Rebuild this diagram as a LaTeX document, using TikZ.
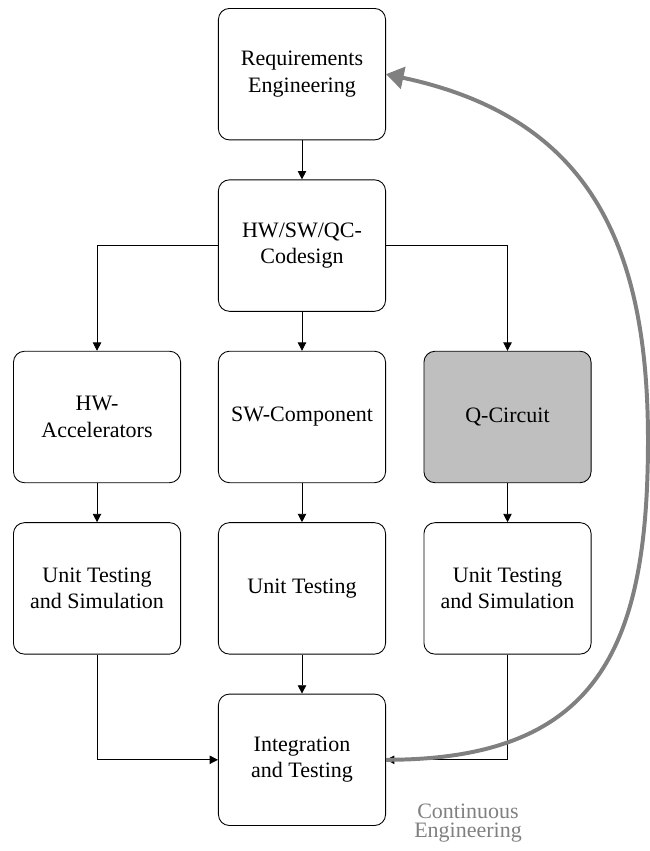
\documentclass[tikz,border=0pt]{standalone}
\usepackage{fontspec}
\setmainfont{Liberation Serif}
\usetikzlibrary{arrows.meta, positioning}

\begin{document}
\begin{tikzpicture}[
    block/.style={draw, rounded corners=5pt, align=center, minimum width=2.67cm, minimum height=2.1cm},
    flow/.style={-{Triangle[length=3.8pt,width=3.8pt]}},
    loopback/.style={draw=gray, line width=1.8pt, -{Triangle[length=8pt,width=10pt]}}
  ]
  \useasboundingbox (0,0) rectangle (10.383,-13.594);

  \node[block] (reqeng) at (4.824,-1.185) {Requirements\\Engineering};
  \node[block] (codesign) at (4.824,-3.923) {HW/SW/QC-\\Codesign};
  \node[block] (hwacc) at (1.550,-6.661) {HW-\\Accelerators};
  \node[block] (swcomp) at (4.824,-6.661) {SW-Component};
  \node[block, fill=black!25] (qcircuit) at (8.107,-6.661) {Q-Circuit};
  \node[block] (hwtest) at (1.550,-9.399) {Unit Testing\\and Simulation};
  \node[block] (swtest) at (4.824,-9.399) {Unit Testing};
  \node[block] (qctest) at (8.107,-9.399) {Unit Testing\\and Simulation};
  \node[block] (integration) at (4.824,-12.137) {Integration\\and Testing};
  \node[gray, align=center, font=\fontsize{10}{9}\selectfont] (contlabel) at (7.476,-13.147) {Continuous\\Engineering};
  \coordinate (bendpoint) at (10.351,-7.029);

  \draw[flow] (reqeng) -- (codesign);
  \draw[flow] (codesign.west) -| (hwacc.north);
  \draw[flow] (codesign) -- (swcomp);
  \draw[flow] (codesign.east) -| (qcircuit.north);
  \draw[flow] (hwacc) -- (hwtest);
  \draw[flow] (swcomp) -- (swtest);
  \draw[flow] (qcircuit) -- (qctest);
  \draw[flow] (hwtest.south) |- (integration.west);
  \draw[flow] (swtest) -- (integration);
  \draw[flow] (qctest.south) |- (integration.east);
  \draw[loopback] (integration.east) to[out=0, in=-90, looseness=1.3] (bendpoint)
    to[out=90, in=-12, looseness=1.15] (reqeng.east);
\end{tikzpicture}
\end{document}
